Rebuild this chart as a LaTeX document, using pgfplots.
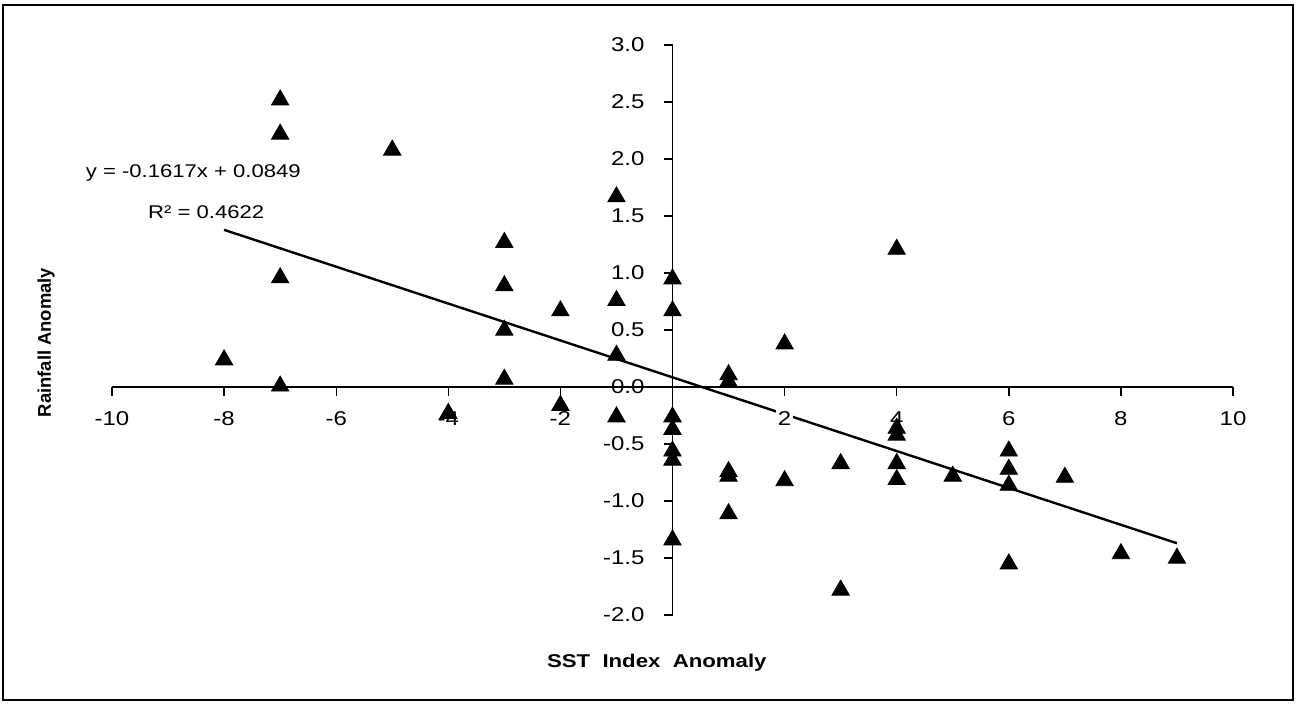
\documentclass[border=0pt]{standalone}
\usepackage{fontspec}
\setmainfont[FakeStretch=1.2]{Liberation Sans}
\newfontfamily\ylabfont{Liberation Sans}
\usepackage{pgfplots}
\pgfplotsset{compat=1.18}
\begin{document}
\begin{tikzpicture}
\begin{axis}[
  set layers,
  at={(0,0)}, anchor=south west,
  scale only axis, width=560.5pt, height=285pt,
  xmin=-10, xmax=10, ymin=-2, ymax=3,
  axis lines=middle,
  axis line style={line width=0.8pt, -},
  xtick={-10,-8,...,10}, ytick={-2,-1.5,...,3},
  tick align=outside, major tick length=4.5pt,
  tick style={line width=0.7pt, black},
  hide obscured y ticks=false,
  /pgf/number format/assume math mode=true,
  yticklabel={\pgfmathprintnumber[fixed,fixed zerofill,precision=1]{\tick}},
  ticklabel style={font=\fontsize{10}{12}\selectfont},
  xticklabel style={fill=white, inner sep=1pt, yshift=-6.5pt},
  yticklabel style={xshift=-6pt},
  clip=false,
]
\addplot[on layer=axis background, line width=1.2pt, black] coordinates {(-8,1.3785) (9,-1.3704)};
\addplot[only marks, mark=triangle*, mark size=5pt, black, mark options={yshift=-1.25pt}] table {
x y
-7 2.54
-7 2.24
-5 2.10
-7 0.98
-8 0.26
-7 0.03
-3 1.29
-3 0.91
-3 0.52
-3 0.09
-2 0.69
-1 1.69
-1 0.78
-1 0.30
-4 -0.21
-2 -0.14
-1 -0.24
0 0.97
0 0.69
0 -0.24
0 -0.35
0 -0.54
0 -0.62
0 -1.32
1 0.13
1 0.07
1 -0.72
1 -0.76
1 -1.09
2 0.40
2 -0.80
3 -0.65
3 -1.76
4 1.23
4 -0.34
4 -0.40
4 -0.65
4 -0.79
5 -0.76
6 -0.54
6 -0.70
6 -0.84
6 -1.53
7 -0.77
8 -1.44
9 -1.48
};
\node[font=\fontsize{9.2}{11}\selectfont] at (axis cs:-8.55,1.873) {y = -0.1617x + 0.0849};
\node[font=\fontsize{9.2}{11}\selectfont] at (axis cs:-8.32,1.535) {R² = 0.4622};
\node[font=\fontsize{9.25}{11}\selectfont\bfseries] at ([yshift=-24pt]axis description cs:0.486,0) {SST\ \ Index\ \ Anomaly};
\node[rotate=90, font=\ylabfont\fontsize{9.2}{11}\selectfont\bfseries] at ([xshift=-33pt]axis description cs:0,0.478) {Rainfall Anomaly};
\end{axis}
\draw[line width=1pt] (-54.5pt,-42.5pt) rectangle (590.5pt,305pt);
\path (-56pt,-44pt) rectangle (592pt,307.5pt);
\end{tikzpicture}
\end{document}
